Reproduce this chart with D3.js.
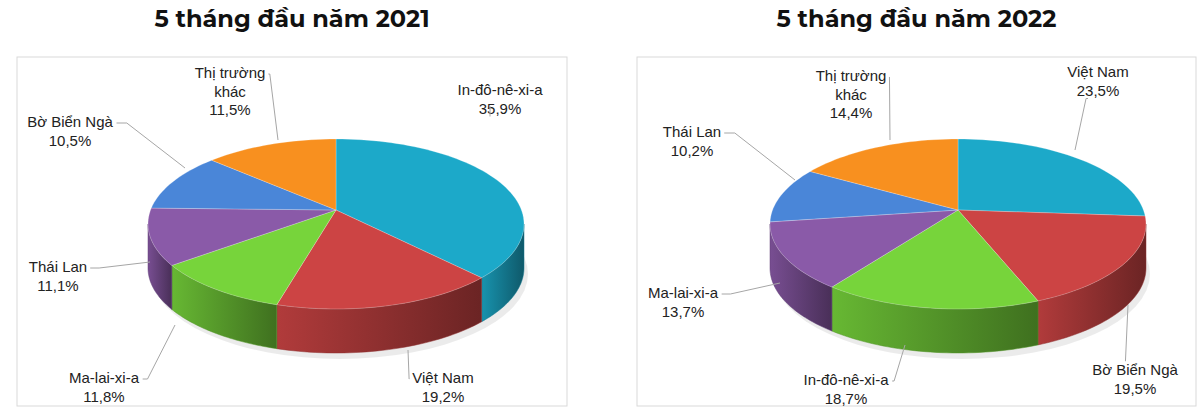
<!DOCTYPE html>
<html><head><meta charset="utf-8">
<script src="https://cdn.jsdelivr.net/npm/d3@7"></script>
<style>body{margin:0;background:#fff}</style>
</head><body>
<svg id="chart" width="1203" height="412"></svg>
<script>
// data
const titles = ["5 tháng đầu năm 2021", "5 tháng đầu năm 2022"];
const names2021 = ["In-đô-nê-xi-a", "Việt Nam", "Ma-lai-xi-a", "Thái Lan", "Bờ Biển Ngà", "Thị trường|khác"];
const values2021 = [35.9, 19.2, 11.8, 11.1, 10.5, 11.5];
const names2022 = ["Việt Nam", "Bờ Biển Ngà", "In-đô-nê-xi-a", "Ma-lai-xi-a", "Thái Lan", "Thị trường|khác"];
const values2022 = [23.5, 19.5, 18.7, 13.7, 10.2, 14.4];
const colors = ["#1ca9c9", "#cc4444", "#77d43b", "#8a5aa8", "#4a86d8", "#f8901f"];

// label layout (text centre x, first line y, leader end point)
const labelPos = [
  [[500, 95, 490, 106], [443, 383, 408, 350], [104, 383, 175, 325], [58, 272, 150, 262], [70, 127, 185, 168], [230, 78, 278, 140]],
  [[1098, 77, 1075, 150], [1135, 375, 1128, 305], [846, 385, 905, 345], [683, 298, 780, 283], [692, 137, 795, 180], [851, 81, 890, 140]]
];

const svg = d3.select("#chart");
const fmt = v => d3.format(".1f")(v).replace(".", ",") + "%";

function drawPie(panel, names, values, bx, bw, cx) {
  const g = svg.append("g");
  g.append("rect").attr("x", bx).attr("y", 57).attr("width", bw).attr("height", 349)
    .attr("fill", "#fff").attr("stroke", "#d9d9d9");
  g.append("text").attr("x", bx + bw / 2).attr("y", 27).attr("text-anchor", "middle")
    .attr("font-family", "Montserrat, 'Open Sans', sans-serif").attr("font-weight", "bold")
    .attr("font-size", 24).attr("fill", "#111").text(titles[panel]);

  const cy = 224, rx = 188, ry = 85, depth = 44, apexY = 210;
  const pie = d3.pie().sort(null).startAngle(0).endAngle(2 * Math.PI);
  const arcs = pie(values);
  const pt = (a, dy = 0) => [cx + rx * Math.sin(a), cy - ry * Math.cos(a) + dy];

  // gradients for the side
  const defs = svg.append("defs");
  colors.forEach((c, i) => {
    const lg = defs.append("linearGradient").attr("id", `side${panel}_${i}`)
      .attr("x1", 0).attr("x2", 1).attr("y1", 0).attr("y2", 0);
    lg.append("stop").attr("offset", "0%").attr("stop-color", d3.color(c).darker(0.4));
    lg.append("stop").attr("offset", "100%").attr("stop-color", d3.color(c).darker(1.8));
  });

  // shadow
  g.append("ellipse").attr("cx", cx + 4).attr("cy", cy + depth + 6).attr("rx", rx).attr("ry", ry)
    .attr("fill", "#000").attr("opacity", 0.08);

  // sides (front half only)
  arcs.forEach((d, i) => {
    const a0 = Math.max(d.startAngle, Math.PI / 2), a1 = Math.min(d.endAngle, 3 * Math.PI / 2);
    if (a1 <= a0) return;
    const top = d3.range(0, 41).map(k => pt(a0 + (a1 - a0) * k / 40));
    const bot = top.map(p => [p[0], p[1] + depth]).reverse();
    g.append("path").attr("d", "M" + top.concat(bot).join("L") + "Z")
      .attr("fill", `url(#side${panel}_${i})`).attr("stroke", d3.color(colors[i]).darker(1)).attr("stroke-width", 0.5);
  });

  // top faces
  arcs.forEach((d, i) => {
    const n = Math.max(2, Math.ceil((d.endAngle - d.startAngle) * 30));
    const rim = d3.range(0, n + 1).map(k => pt(d.startAngle + (d.endAngle - d.startAngle) * k / n));
    g.append("path").attr("d", `M${cx},${apexY}L` + rim.join("L") + "Z")
      .attr("fill", colors[i]).attr("stroke", "#fff").attr("stroke-width", 0.6).attr("stroke-opacity", 0.4);
  });

  // labels
  arcs.forEach((d, i) => {
    const [tx, ty, lx, ly] = labelPos[panel][i];
    const lines = names[i].split("|").concat([fmt(values[i])]);
    const t = g.append("text").attr("text-anchor", "middle").attr("font-family", "'Liberation Sans', Arial, sans-serif")
      .attr("font-size", 15).attr("fill", "#222");
    lines.forEach((s, k) => t.append("tspan").attr("x", tx).attr("y", ty + k * 18.5).text(s));
    const left = tx < lx;
    const sx = left ? tx + (tx > cx ? 0 : 0) : tx;
    // leader line from label side to slice edge
    const bb = t.node().getBBox();
    let x0, y0;
    if (Math.abs(lx - tx) > bb.width / 2) { x0 = lx > tx ? bb.x + bb.width + 3 : bb.x - 3; y0 = bb.y + 10; }
    else { x0 = tx + (lx > tx ? 10 : -10); y0 = ly > ty ? bb.y + bb.height : bb.y; }
    g.append("polyline").attr("points", [[x0, y0], [x0 + (lx - x0) * 0.15, y0], [lx, ly]].join(" "))
      .attr("fill", "none").attr("stroke", "#a6a6a6").attr("stroke-width", 1);
  });
}

drawPie(0, names2021, values2021, 17, 550, 336);
drawPie(1, names2022, values2022, 637, 559, 958);
</script>
</body></html>
